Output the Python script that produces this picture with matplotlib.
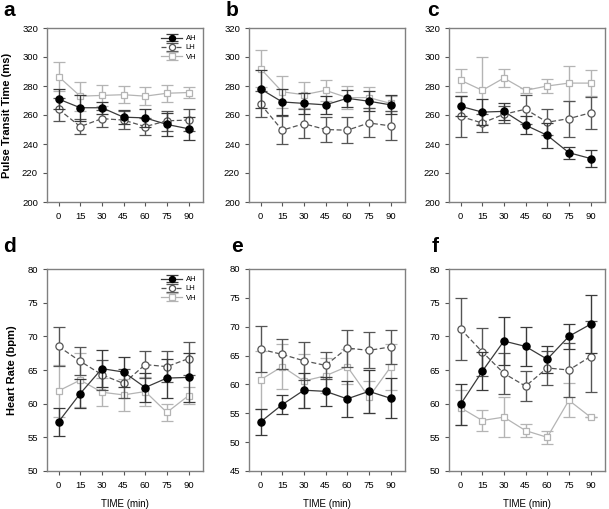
import matplotlib
matplotlib.use("Agg")
import matplotlib.pyplot as plt
import numpy as np

plt.rcParams['font.family'] = ['Liberation Sans', 'DejaVu Sans']

time = [0, 15, 30, 45, 60, 75, 90]
groups = ["AH", "LH", "VH"]

# Pulse transit time (ms)
ptt_a = {"AH": [271, 265, 265, 258.5, 258, 253.5, 250.5],
         "LH": [264, 252, 257.5, 256.5, 252, 256, 256.5],
         "VH": [286.5, 273, 273.5, 274, 273, 275, 275.5]}
ptt_a_err = {"AH": [7, 9, 4, 5, 6, 8, 8],
             "LH": [8, 5, 6, 6, 6, 7, 7.5],
             "VH": [10, 10, 7, 6, 6, 6, 4]}
ptt_b = {"AH": [278, 269, 268, 267, 271.5, 269.5, 267],
         "LH": [267.5, 249.5, 254, 250, 249.5, 254.5, 252.5],
         "VH": [292, 276, 274, 277, 272, 272, 268]}
ptt_b_err = {"AH": [13, 9, 7, 6, 6, 7, 6.5],
             "LH": [9, 9.5, 10, 8.5, 9, 10, 10],
             "VH": [12.5, 11, 9, 7, 8, 7.5, 5]}
ptt_c = {"AH": [266, 262, 262.5, 253, 246, 234, 230],
         "LH": [259, 254.5, 260.5, 264, 255, 257.5, 261.5],
         "VH": [284, 277, 285.5, 277, 280, 282, 282]}
ptt_c_err = {"AH": [7, 9, 6, 6, 8.5, 4, 6],
             "LH": [14, 6, 6, 10, 9, 12.5, 11],
             "VH": [8, 23, 6, 1.5, 4.5, 12, 9]}

# Heart rate (bpm)
hr_d = {"AH": [57.3, 61.5, 65.2, 64.7, 62.4, 63.8, 63.9],
        "LH": [68.5, 66.3, 64.3, 63.0, 65.8, 65.5, 66.7],
        "VH": [61.9, 63.5, 61.7, 61.3, 61.8, 58.7, 61.2]}
hr_d_err = {"AH": [2.1, 2.1, 2.7, 2.2, 2.2, 2.9, 3.6],
            "LH": [2.9, 2.1, 2.2, 2.1, 2.0, 2.3, 2.5],
            "VH": [3.9, 4.0, 2.1, 2.4, 2.2, 1.2, 1.3]}
hr_e = {"AH": [53.5, 56.5, 59.0, 58.8, 57.5, 58.8, 57.6],
        "LH": [66.1, 65.2, 64.1, 63.3, 66.3, 65.9, 66.5],
        "VH": [60.8, 63.1, 60.6, 61.5, 63.1, 57.8, 63.0]}
hr_e_err = {"AH": [2.2, 1.6, 3.0, 2.5, 3.1, 3.7, 3.5],
            "LH": [4.0, 2.6, 3.3, 2.3, 3.2, 3.1, 2.9],
            "VH": [5.0, 3.9, 4.6, 3.0, 3.0, 2.8, 4.0]}
hr_f = {"AH": [59.9, 64.8, 69.3, 68.5, 66.6, 70.0, 71.8],
        "LH": [71.1, 67.7, 64.5, 62.6, 65.3, 65.0, 67.0],
        "VH": [59.4, 57.5, 58.0, 56.0, 55.0, 60.5, 58.0]}
hr_f_err = {"AH": [3.0, 2.8, 3.5, 2.9, 2.0, 1.9, 4.3],
            "LH": [4.6, 3.6, 3.0, 2.2, 2.5, 4.0, 5.3],
            "VH": [2.6, 1.5, 3.0, 1.0, 1.0, 2.5, 0.0]}

panels = [
    ("a", ptt_a, ptt_a_err, (200, 320), np.arange(200, 321, 20)),
    ("b", ptt_b, ptt_b_err, (200, 320), np.arange(200, 321, 20)),
    ("c", ptt_c, ptt_c_err, (200, 320), np.arange(200, 321, 20)),
    ("d", hr_d, hr_d_err, (50, 80), np.arange(50, 81, 5)),
    ("e", hr_e, hr_e_err, (45, 80), np.arange(45, 81, 5)),
    ("f", hr_f, hr_f_err, (50, 80), np.arange(50, 81, 5)),
]

styles = {
    "AH": dict(color="#3a3a3a", ls="-", marker="o", mfc="black", mec="black", ms=5.2),
    "LH": dict(color="#555555", ls=(0, (4, 2)), marker="o", mfc="white", mec="#555555", ms=5.2),
    "VH": dict(color="#b4b4b4", ls="-", marker="s", mfc="white", mec="#b4b4b4", ms=4.3),
}
err_colors = {"AH": "#3a3a3a", "LH": "#555555", "VH": "#b4b4b4"}

fig = plt.figure(figsize=(6.09, 5.09), dpi=100)
W, H = 609, 509
lefts = [47, 249, 449]
width = 156
rows = [(28, 202), (269, 471)]
letter_x = [[3, 226, 427], [3, 231, 432]]
letter_y = [10, 246]

for i, (label, data, err, ylim, yt) in enumerate(panels):
    r, c = divmod(i, 3)
    top, bot = rows[r]
    ax = fig.add_axes([lefts[c] / W, (H - bot) / H, width / W, (bot - top) / H])
    for g in ["VH", "LH", "AH"]:
        st = styles[g]
        ax.errorbar(time, data[g], yerr=err[g], color=st["color"], ls=st["ls"], lw=0.9,
                    marker=st["marker"], mfc=st["mfc"], mec=st["mec"], ms=st["ms"], mew=0.9,
                    ecolor=err_colors[g], elinewidth=1.0, capsize=4, capthick=1.0, label=g,
                    zorder={"AH": 5, "LH": 4, "VH": 3}[g])
    ax.set_xlim(-8, 100)
    ax.set_ylim(*ylim)
    ax.set_xticks(time)
    ax.set_yticks(yt)
    ax.tick_params(labelsize=6.8, length=3, width=0.8, color="#555555")
    ax.tick_params(axis="x", pad=4)
    ax.tick_params(axis="y", pad=3.5)
    for s in ax.spines.values():
        s.set_color("#808080")
        s.set_linewidth(1.0)
    fig.text(letter_x[r][c] / W, (H - letter_y[r]) / H, label,
             fontsize=15, fontweight="bold", va="center", ha="left")
    if r == 1:
        ax.set_xlabel("TIME (min)", fontsize=7, labelpad=6.5)
    if c == 0:
        ax.set_ylabel("Pulse Transit Time (ms)" if r == 0 else "Heart Rate (bpm)",
                      fontsize=8, fontweight="bold", labelpad=7.5)
        h, l = ax.get_legend_handles_labels()
        order = [l.index(x) for x in groups]
        ax.legend([h[k] for k in order], [l[k] for k in order], loc="upper right",
                  frameon=False, fontsize=5.5, handlelength=2.8, borderpad=0.4,
                  labelspacing=0.25, handletextpad=0.4, markerscale=0.85)

fig.savefig("out.png", dpi=100)
